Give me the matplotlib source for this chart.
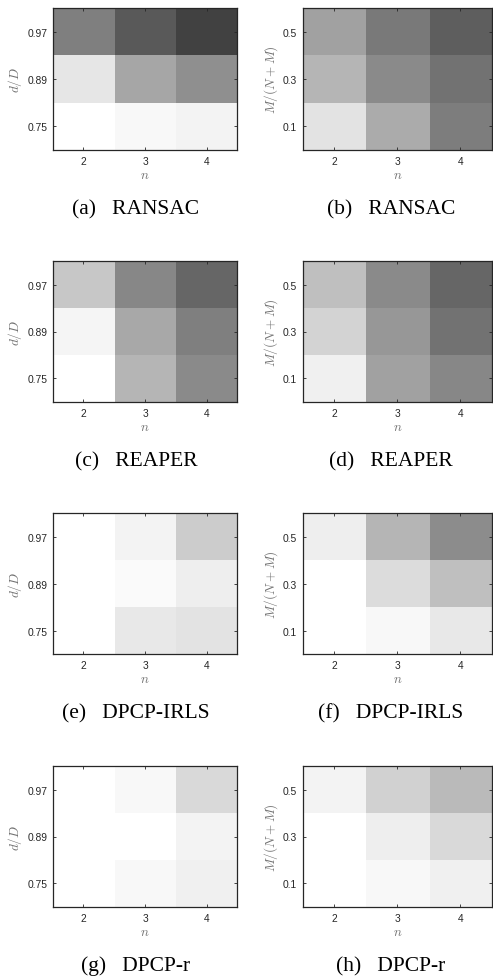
import numpy as np
import matplotlib
matplotlib.use("Agg")
import matplotlib.pyplot as plt

plt.rcParams['mathtext.fontset'] = 'cm'
plt.rcParams['font.family'] = ['Liberation Sans', 'DejaVu Sans']

n_values = [2, 3, 4]
dD_labels = ["0.75", "0.89", "0.97"]
MNM_labels = ["0.1", "0.3", "0.5"]

# rows: bottom -> top ; columns: n = 2, 3, 4 ; values = error (0 white .. 1 black)
ransac_dD = [[0.00, 0.03, 0.05],
             [0.10, 0.35, 0.44],
             [0.50, 0.65, 0.74]]
ransac_M = [[0.11, 0.33, 0.51],
            [0.29, 0.46, 0.55],
            [0.37, 0.52, 0.63]]
reaper_dD = [[0.00, 0.29, 0.46],
             [0.04, 0.34, 0.50],
             [0.22, 0.47, 0.60]]
reaper_M = [[0.06, 0.37, 0.47],
            [0.17, 0.41, 0.55],
            [0.25, 0.46, 0.60]]
irls_dD = [[0.00, 0.09, 0.11],
           [0.00, 0.02, 0.07],
           [0.00, 0.05, 0.20]]
irls_M = [[0.00, 0.03, 0.09],
          [0.00, 0.14, 0.25],
          [0.07, 0.29, 0.45]]
dpcpr_dD = [[0.00, 0.03, 0.06],
            [0.00, 0.00, 0.05],
            [0.00, 0.03, 0.15]]
dpcpr_M = [[0.00, 0.03, 0.06],
           [0.00, 0.07, 0.15],
           [0.05, 0.18, 0.27]]

captions = ["(a)   RANSAC", "(b)   RANSAC", "(c)   REAPER", "(d)   REAPER",
            "(e)   DPCP-IRLS", "(f)   DPCP-IRLS", "(g)   DPCP-r", "(h)   DPCP-r"]
panels = [ransac_dD, ransac_M, reaper_dD, reaper_M,
          irls_dD, irls_M, dpcpr_dD, dpcpr_M]

W, H = 493, 978
fig = plt.figure(figsize=(W / 100, H / 100), dpi=100)

col_x = [(52.7, 237.3), (302.7, 492.0)]
row_y = [(9.0, 150.7), (262.3, 402.7), (514.3, 655.0), (767.3, 907.7)]
cap_x = [136, 391]

dark = '#262626'
for i, (data, cap) in enumerate(zip(panels, captions)):
    r, c = divmod(i, 2)
    x0, x1 = col_x[c]
    y0, y1 = row_y[r]
    ax = fig.add_axes([x0 / W, 1 - y1 / H, (x1 - x0) / W, (y1 - y0) / H])
    ax.imshow(np.array(data), cmap='gray_r', vmin=0, vmax=1, origin='lower',
              extent=[n_values[0] - 0.5, n_values[-1] + 0.5, 0, 3],
              aspect='auto', interpolation='nearest')
    ax.set_xlim(n_values[0] - 0.5, n_values[-1] + 0.5)
    ax.set_ylim(0, 3)
    ax.set_xticks(n_values)
    ax.set_xticklabels([str(v) for v in n_values])
    ax.set_yticks([0.5, 1.5, 2.5])
    ax.set_yticklabels(dD_labels if c == 0 else MNM_labels)
    ax.tick_params(direction='in', length=2.5, width=0.6, top=True, right=True,
                   labelsize=7.4, colors=dark)
    ax.tick_params(axis='x', pad=4.5)
    ax.tick_params(axis='y', pad=4)
    for s in ax.spines.values():
        s.set_color(dark)
        s.set_linewidth(0.9)
    ax.set_xlabel('$n$', fontsize=9.5, color='#707070', labelpad=2)
    ax.set_ylabel('$d/D$' if c == 0 else '$M/(N+M)$', fontsize=9.5,
                  color='#707070', labelpad=2)
    fig.text(cap_x[c] / W, 1 - (y1 + 63.7) / H, cap, ha='center', va='baseline',
             fontsize=15.5, family='Liberation Serif', color='black')

fig.savefig('out.png', dpi=100)
